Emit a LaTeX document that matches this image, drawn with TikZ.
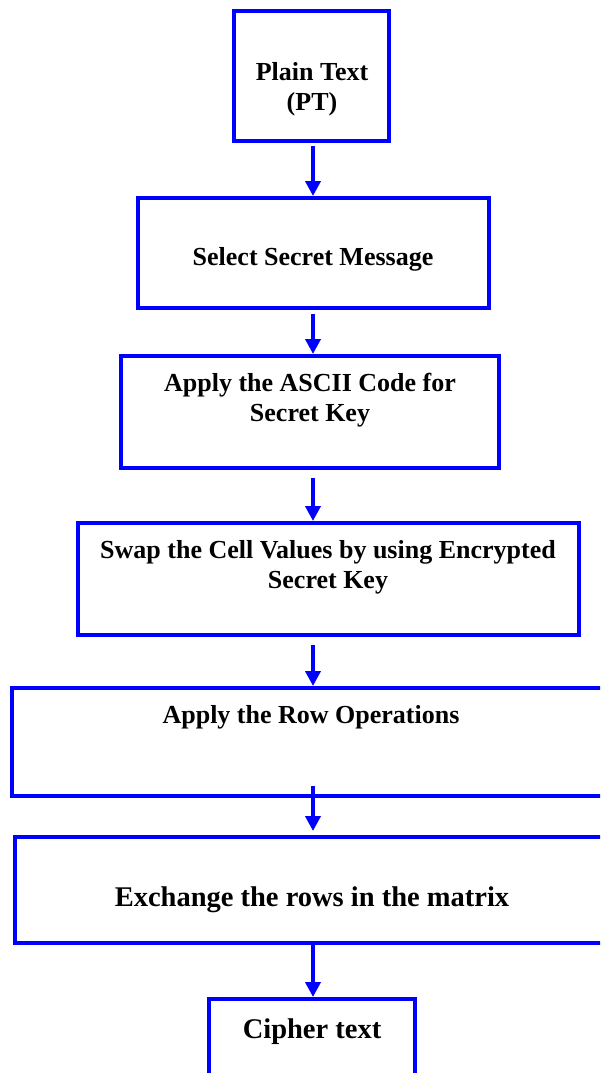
\documentclass[tikz,border=0pt]{standalone}
\usepackage{fontspec}
\setmainfont{Liberation Serif}
\usetikzlibrary{arrows.meta}
\begin{document}
\begin{tikzpicture}[x=1pt,y=-1pt,
  box/.style={draw=blue, line width=4pt, rectangle, inner sep=0pt},
  txt/.style={font=\bfseries\fontsize{26}{30}\selectfont, align=center, inner sep=0pt},
  big/.style={font=\bfseries\fontsize{28.5}{32}\selectfont, align=center, inner sep=0pt},
  flow/.style={draw=blue, line width=4pt, -{Triangle[width=15pt,length=15pt]}}]
\useasboundingbox (0,0) rectangle (600,1073);
\clip (0,0) rectangle (600,1073);
\coordinate (ax) at (313,0);
% boxes
\node[box, minimum width=155pt, minimum height=130pt] (b1) at (311.5,76) {};
\node[box, minimum width=351pt, minimum height=110pt] (b2) at (313.5,253) {};
\node[box, minimum width=378pt, minimum height=112pt] (b3) at (310,412) {};
\node[box, minimum width=501pt, minimum height=112pt] (b4) at (328.5,579) {};
\node[box, minimum width=607pt, minimum height=108pt] (b5) at (315.5,742) {};
\node[box, minimum width=604pt, minimum height=106pt] (b6) at (317,890) {};
\node[box, minimum width=206pt, minimum height=92pt] (b7) at (312,1045) {};
% texts
\node[txt] (t1) at (312,89) {Plain Text\\(PT)};
\node[txt] (t2) at (313,259) {Select Secret Message};
\node[txt] (t3) at (310,400) {Apply the ASCII Code for\\Secret Key};
\node[txt] (t4) at (328,567) {Swap the Cell Values by using Encrypted\\Secret Key};
\node[txt] (t5) at (311,717) {Apply the Row Operations};
\node[big] (t6) at (312,900) {Exchange the rows in the matrix};
\node[big] (t7) at (312,1032) {Cipher text};
% arrows
\draw[flow, shorten <=3pt] (b1.south -| ax) -- (b2.north -| ax);
\draw[flow, shorten <=4pt] (b2.south -| ax) -- (b3.north -| ax);
\draw[flow, shorten <=8pt] (b3.south -| ax) -- (b4.north -| ax);
\draw[flow, shorten <=8pt] (b4.south -| ax) -- (b5.north -| ax);
\draw[flow, shorten <=-12pt, shorten >=4pt] (b5.south -| ax) -- (b6.north -| ax);
\draw[flow] (b6.south -| ax) -- (b7.north -| ax);
\end{tikzpicture}
\end{document}
